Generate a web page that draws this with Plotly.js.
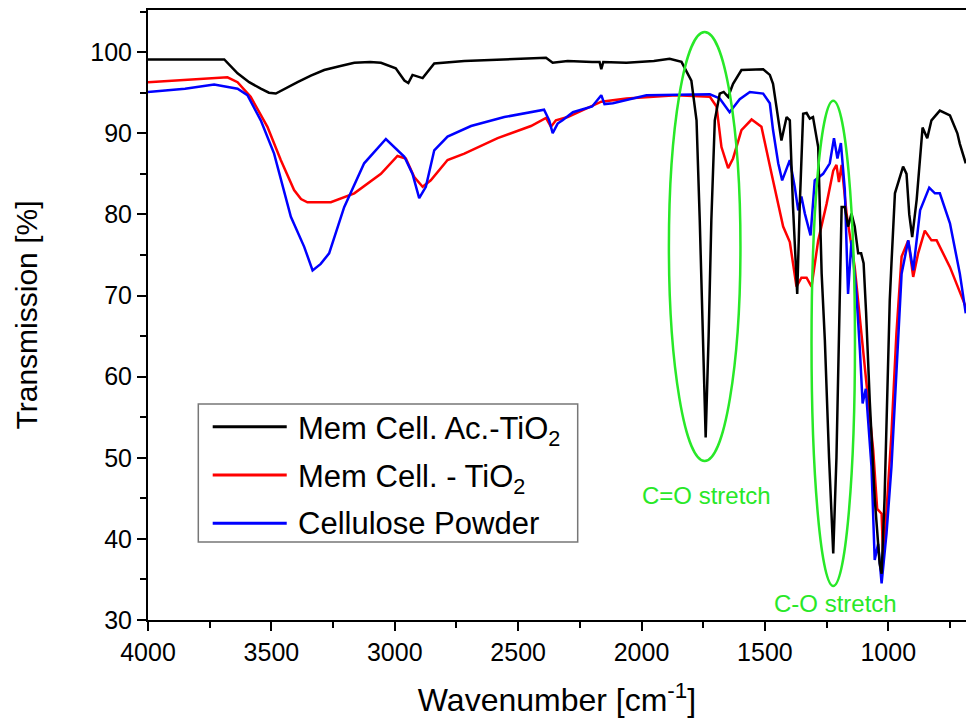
<!DOCTYPE html>
<html>
<head>
<meta charset="utf-8">
<script src="https://cdn.plot.ly/plotly-3.0.1.min.js"></script>
<style>html,body{margin:0;padding:0;background:#fff;}#chart{width:966px;height:726px;}</style>
</head>
<body>
<div id="chart"></div>
<script>
// Series names (legend order)
const seriesNames = ["Mem Cell. Ac.-TiO<sub>2</sub>", "Mem Cell. - TiO<sub>2</sub>", "Cellulose Powder"];
const seriesColors = ["#000000", "#ff0000", "#0000ff"];

// Black: Mem Cell. Ac.-TiO2
const wnBlack = [4000,3850,3691,3637,3590,3543,3510,3482,3440,3394,3340,3286,3220,3164,3100,3056,2996,2961,2945,2928,2887,2840,2718,2515,2387,2360,2299,2200,2170,2163,2155,2061,1950,1886,1838,1798,1777,1764,1752,1740,1728,1717,1703,1683,1667,1649,1629,1595,1507,1480,1467,1453,1433,1412,1399,1386,1369,1359,1345,1331,1318,1305,1284,1270,1257,1240,1223,1210,1196,1189,1176,1163,1149,1136,1122,1110,1100,1090,1075,1055,1035,1027,1015,1003,994,987,973,940,926,915,903,885,861,842,825,791,750,720,710,686];
const tBlack  = [99.1,99.1,99.1,97.4,96.3,95.5,95.0,94.9,95.6,96.3,97.1,97.8,98.3,98.7,98.8,98.7,98.0,96.5,96.2,97.2,96.8,98.6,98.9,99.1,99.3,98.7,98.9,98.8,98.8,97.9,98.8,98.7,98.9,99.2,98.8,96.5,91.6,79.3,65.0,52.5,65.0,79.3,91.6,94.9,95.1,94.5,96.1,97.8,97.9,97.2,96.1,93.3,89.1,92.0,91.6,80.9,70.2,80.9,92.4,92.5,91.8,92.0,88.3,72.7,64.5,50.0,38.2,50.0,69.4,80.9,80.9,78.5,80.1,78.5,75.2,75.2,74.0,68.0,57.0,45.0,37.0,35.7,45.0,60.0,69.4,74.0,82.6,85.9,85.0,80.0,77.2,81.8,90.7,89.4,91.6,92.8,92.2,90.0,88.7,86.3];

// Red: Mem Cell. - TiO2
const wnRed = [4000,3850,3678,3637,3584,3516,3462,3408,3380,3354,3259,3164,3056,2989,2955,2921,2887,2854,2786,2718,2583,2448,2387,2367,2347,2299,2163,2061,1859,1723,1696,1676,1649,1629,1595,1554,1514,1473,1426,1399,1372,1352,1331,1311,1284,1250,1223,1210,1200,1189,1169,1136,1108,1088,1061,1045,1027,1021,1007,987,967,946,919,899,879,852,825,804,750,686];
const tRed  = [96.3,96.6,96.9,96.3,94.5,90.8,86.7,83.0,81.9,81.5,81.5,82.6,85.0,87.2,86.9,84.6,83.4,84.2,86.7,87.5,89.4,90.9,91.9,90.8,91.6,92.0,93.9,94.3,94.7,94.5,93.3,88.3,85.7,86.9,90.4,91.7,90.8,85.0,78.5,76.6,71.1,72.2,72.2,71.1,76.8,81.3,85.4,86.1,84.0,86.1,80.1,73.5,65.3,59.1,50.9,43.7,43.1,37.8,43.5,53.0,65.3,74.8,76.8,72.3,75.2,78.0,76.8,76.8,73.5,68.6];

// Blue: Cellulose Powder
const wnBlue = [4000,3850,3732,3637,3597,3543,3489,3421,3367,3333,3300,3266,3205,3124,3036,2996,2961,2928,2901,2874,2840,2786,2691,2556,2395,2374,2360,2340,2320,2278,2200,2163,2150,2116,1980,1723,1683,1643,1602,1561,1507,1480,1467,1446,1430,1399,1379,1365,1352,1338,1315,1298,1264,1237,1220,1206,1192,1176,1163,1149,1129,1115,1104,1091,1068,1055,1041,1027,1007,987,967,956,946,919,899,871,834,811,791,750,710,686];
const tBlue  = [95.1,95.5,96.0,95.5,94.7,91.6,87.5,79.7,76.0,73.1,73.9,75.2,80.9,86.3,89.3,88.1,87.1,85.0,82.0,83.4,87.9,89.6,90.9,92.0,92.9,91.6,90.0,91.2,91.6,92.6,93.3,94.7,93.6,93.7,94.7,94.8,94.3,92.6,94.2,95.1,94.9,93.7,90.4,86.3,84.2,86.7,83.4,80.5,82.2,80.1,77.4,84.2,85.0,86.3,89.4,86.9,88.8,83.0,70.2,76.8,70.2,63.3,56.7,58.5,48.9,37.4,39.4,34.5,40.7,48.9,61.2,67.0,72.7,76.8,73.1,80.5,83.3,82.6,82.6,78.9,72.7,67.8];

// Annotation labels
const annoTexts = ["C=O stretch", "C-O stretch"];
const annoX = [1737, 1212];
const annoY = [45.3, 32.0];
// Ellipses [x0, x1, y0, y1]
const ellipses = [[1889, 1599, 49.6, 102.5], [1311, 1135, 34.2, 94.0]];

const FONT = "Liberation Sans, Arial, sans-serif";
const green = "rgb(40,232,40)";

const traces = [
  {x: wnRed, y: tRed, name: seriesNames[1], type: "scatter", mode: "lines", line: {color: seriesColors[1], width: 2.5}, showlegend: false},
  {x: wnBlue, y: tBlue, name: seriesNames[2], type: "scatter", mode: "lines", line: {color: seriesColors[2], width: 2.5}, showlegend: false},
  {x: wnBlack, y: tBlack, name: seriesNames[0], type: "scatter", mode: "lines", line: {color: seriesColors[0], width: 2.5}, showlegend: false}
];

// Legend drawn as a box in paper coordinates
const legRowsY = [0.3169, 0.2377, 0.1585];
const shapes = ellipses.map(e => ({
  type: "circle", xref: "x", yref: "y",
  x0: e[0], x1: e[1], y0: e[2], y1: e[3],
  line: {color: green, width: 2.5}, fillcolor: "rgba(0,0,0,0)"
}));
shapes.push({type: "rect", xref: "paper", yref: "paper", x0: 0.0615, x1: 0.5253, y0: 0.1279, y1: 0.3541,
  line: {color: "#777", width: 1.5}, fillcolor: "#fff", layer: "above"});
seriesNames.forEach((n, i) => {
  shapes.push({type: "line", xref: "paper", yref: "paper", x0: 0.0791, x1: 0.1696, y0: legRowsY[i], y1: legRowsY[i],
    line: {color: seriesColors[i], width: 3}, layer: "above"});
});

const annotations = annoTexts.map((t, i) => ({
  text: t, x: annoX[i], y: annoY[i], xref: "x", yref: "y",
  showarrow: false, font: {family: FONT, size: 24, color: green}
}));
seriesNames.forEach((n, i) => {
  annotations.push({text: n, xref: "paper", yref: "paper", x: 0.1809, y: legRowsY[i],
    xanchor: "left", yanchor: "middle", showarrow: false, yshift: n.indexOf("<sub>") >= 0 ? -4 : 0,
    font: {family: FONT, size: 31, color: "#000"}});
});

const layout = {
  width: 966, height: 726,
  margin: {l: 148, r: 0, t: 10, b: 106},
  paper_bgcolor: "#fff", plot_bgcolor: "#fff",
  font: {family: FONT, color: "#000"},
  showlegend: false,
  xaxis: {
    range: [4000, 685], autorange: false,
    showgrid: false, zeroline: false,
    showline: true, linecolor: "#000", linewidth: 2, mirror: true,
    ticks: "outside", ticklen: 9, tickwidth: 2, tickcolor: "#000",
    dtick: 500, tick0: 0,
    tickfont: {family: FONT, size: 25, color: "#000"},
    minor: {dtick: 250, ticks: "outside", ticklen: 6, tickwidth: 2, tickcolor: "#000", showgrid: false},
    title: {text: "Wavenumber [cm<sup>-1</sup>]", font: {family: FONT, size: 32, color: "#000"}, standoff: 24}
  },
  yaxis: {
    range: [30, 105.2], autorange: false,
    showgrid: false, zeroline: false,
    showline: true, linecolor: "#000", linewidth: 2, mirror: false,
    ticks: "outside", ticklen: 9, tickwidth: 2, tickcolor: "#000",
    dtick: 10, tick0: 0,
    tickfont: {family: FONT, size: 25, color: "#000"},
    minor: {dtick: 5, ticks: "outside", ticklen: 6, tickwidth: 2, tickcolor: "#000", showgrid: false},
    title: {text: "Transmission [%]", font: {family: FONT, size: 30, color: "#000"}, standoff: 44}
  },
  shapes: shapes,
  annotations: annotations
};

Plotly.newPlot("chart", traces, layout, {displayModeBar: false, staticPlot: true});
</script>
</body>
</html>
